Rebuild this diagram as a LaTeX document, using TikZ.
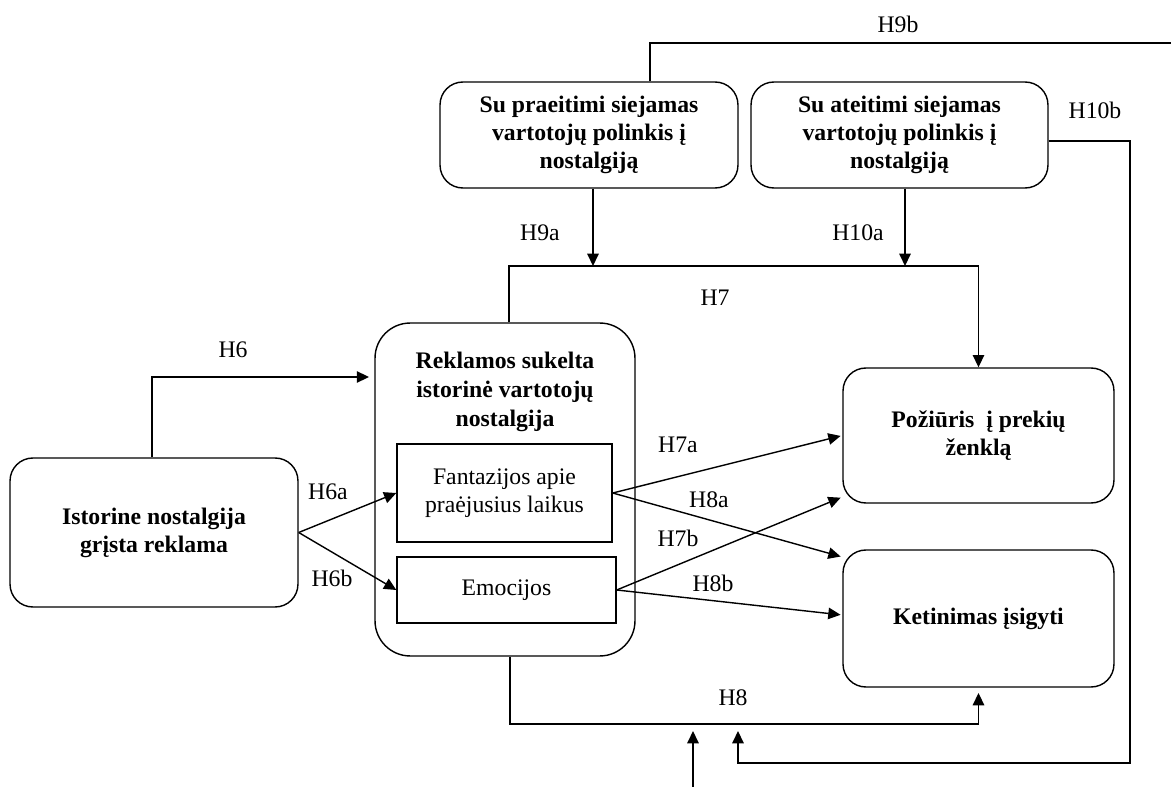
\documentclass[tikz,border=0pt]{standalone}
\usepackage{fontspec}
\setmainfont{Liberation Serif}
\usetikzlibrary{arrows.meta,calc}
\begin{document}
\begin{tikzpicture}[x=0.02cm,y=-0.02cm,
  box/.style={draw, line width=0.8pt, rounded corners=13pt, align=center, inner sep=0pt,
    font=\bfseries\fontsize{13.5}{16}\selectfont},
  sub/.style={draw, line width=0.8pt, align=center, inner sep=0pt,
    font=\fontsize{13.5}{16}\selectfont},
  ln/.style={line width=0.8pt},
  arr/.style={line width=0.8pt, -{Triangle[length=7pt,width=6.5pt]}},
  lab/.style={font=\fontsize{13.5}{15}\selectfont, inner sep=0pt}]
\useasboundingbox (0,0) rectangle (1171,787);

% boxes
\node[box, minimum width=5.76cm, minimum height=2.98cm] (left) at (154,532.5)
  {Istorine nostalgija\\grįsta reklama};
\node[box, rounded corners=20pt, minimum width=5.2cm, minimum height=6.66cm] (big) at (505,489.5) {};
\node[align=center, inner sep=0pt, font=\bfseries\fontsize{13.5}{16.5}\selectfont] (bigtitle) at (505,392)
  {Reklamos sukelta\\istorinė vartotojų\\nostalgija};
\node[sub, minimum width=4.3cm, minimum height=1.96cm] (fan) at (504.5,493)
  {Fantazijos apie\\praėjusius laikus};
\node[sub, minimum width=4.38cm, minimum height=1.32cm] (emo) at (506.5,590) {Emocijos};
\node[box, minimum width=5.96cm, minimum height=2.12cm] (pre) at (589,135)
  {Su praeitimi siejamas\\vartotojų polinkis į\\nostalgiją};
\node[box, minimum width=5.94cm, minimum height=2.12cm] (ate) at (899.5,135)
  {Su ateitimi siejamas\\vartotojų polinkis į\\nostalgiją};
\node[box, minimum width=5.42cm, minimum height=2.7cm] (poz) at (978.5,435.5)
  {Požiūris\ \ į prekių\\ženklą};
\node[box, minimum width=5.42cm, minimum height=2.74cm] (ket) at (978.5,618.5)
  {Ketinimas įsigyti};

% free ends of the lower arrows
\coordinate (h10end) at (738,731);
\coordinate (extstart) at (693,787);
\coordinate (extend) at (693,731);

% connectors
\draw[arr, shorten >=3pt] (left.north -| 152,0) |- (big.west |- 0,377);
\draw[arr] (left.east) -- (fan.west);
\draw[arr] (left.east) -- (emo.west);
\draw[arr, shorten >=1pt] (fan.east) -- (poz.west);
\draw[arr, shorten >=1pt] (fan.east) -- (ket.west |- 0,557);
\draw[arr, shorten >=1pt] (emo.east) -- (poz.west |- 0,497);
\draw[arr, shorten >=1pt] (emo.east) -- (ket.west |- 0,615);
\draw[arr] (big.north -| 509,0) |- (poz.north |- 0,266) -- (poz.north);
\draw[arr] (pre.south -| 593,0) -- (593,266);
\draw[arr] (ate.south -| 905,0) -- (905,266);
\draw[ln] (pre.north -| 650,0) |- (1171,43);
\draw[arr, shorten >=3pt] (big.south -| 510,0) |- (ket.south |- 0,724) -- (ket.south);
\draw[arr] (ate.east |- 0,141) -| (1130,763) -| (h10end);
\draw[arr] (extstart) -- (extend);

% labels
\node[lab] (l9b) at (898,24) {H9b};
\node[lab] (l10b) at (1095,110) {H10b};
\node[lab] (l9a) at (540,233) {H9a};
\node[lab] (l10a) at (858,233) {H10a};
\node[lab] (l7) at (715,298) {H7};
\node[lab] (l6) at (233,350) {H6};
\node[lab] (l6a) at (328,492) {H6a};
\node[lab] (l6b) at (332,578) {H6b};
\node[lab] (l7a) at (678,445) {H7a};
\node[lab] (l8a) at (709,500) {H8a};
\node[lab] (l7b) at (678,538) {H7b};
\node[lab] (l8b) at (713,583) {H8b};
\node[lab] (l8) at (733,698) {H8};
\end{tikzpicture}
\end{document}
